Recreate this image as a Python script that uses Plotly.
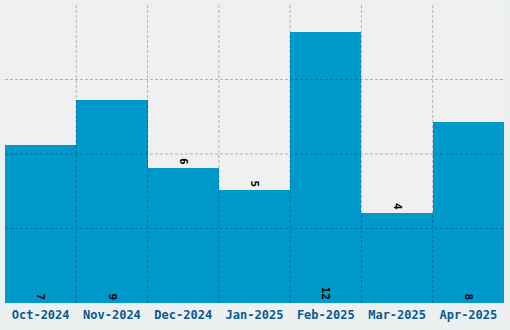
import plotly.graph_objects as go

months = ["Oct-2024", "Nov-2024", "Dec-2024", "Jan-2025", "Feb-2025", "Mar-2025", "Apr-2025"]
values = [7, 9, 6, 5, 12, 4, 8]
label_pos = ["inside", "inside", "outside", "outside", "inside", "outside", "inside"]
y_ticks = [3.3, 6.6, 9.9]

grid_col = "rgba(0,0,0,0.26)"
fig = go.Figure()
fig.add_trace(go.Bar(
    x=months, y=values, text=[str(v) for v in values],
    textposition=label_pos, insidetextanchor="start", textangle=90,
    textfont=dict(family="DejaVu Sans Mono", size=11, color="#000000", weight="bold"),
    marker=dict(color="#0099cc", line=dict(width=0)),
    cliponaxis=False,
))
shapes = []
for yv in y_ticks:
    shapes.append(dict(type="line", xref="paper", yref="y", x0=0, x1=1, y0=yv, y1=yv,
                       line=dict(color=grid_col, width=1, dash="3px,2px"), layer="above"))
for i in range(1, len(months)):
    shapes.append(dict(type="line", xref="x", yref="paper", x0=i - 0.5, x1=i - 0.5, y0=0, y1=1,
                       line=dict(color=grid_col, width=1, dash="3px,2px"), layer="above"))
fig.update_layout(
    width=510, height=330,
    margin=dict(l=5, r=6, t=5, b=27),
    paper_bgcolor="#edf0f1", plot_bgcolor="#f0f0f0",
    bargap=0, showlegend=False, shapes=shapes,
    uniformtext=dict(mode=False),
)
fig.update_xaxes(showgrid=False, zeroline=False, showline=False, ticks="",
                 ticklabelstandoff=3,
                 tickfont=dict(family="DejaVu Sans Mono", size=12, color="#0a5a94", weight="bold"))
fig.update_yaxes(range=[0, 13.2], showgrid=False, zeroline=False, showticklabels=False,
                 tickvals=y_ticks)
fig.write_html("out.html")
